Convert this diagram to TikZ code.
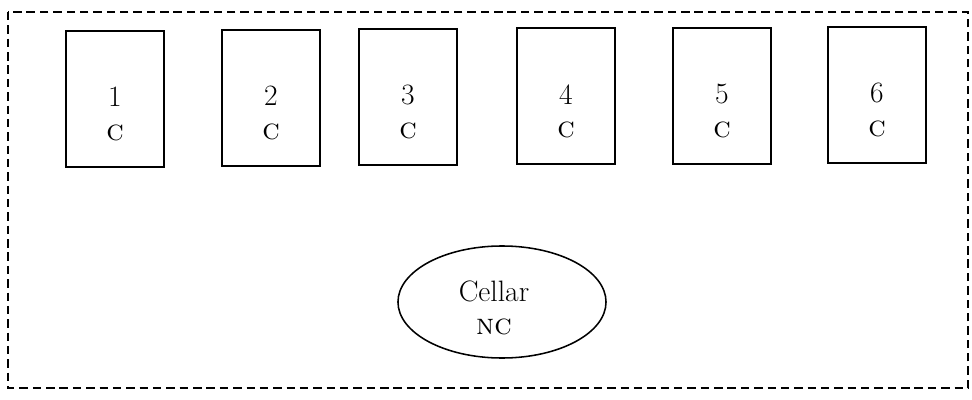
\documentclass[tikz,border=0pt]{standalone}
\usepackage{tikz}
\usetikzlibrary{shapes.geometric}

\begin{document}
\begin{tikzpicture}[x=0.025cm, y=-0.025cm,
                    room node/.style={rectangle,draw,line width=1.2pt,minimum width=2.45cm,minimum height=3.4cm},
                    room text/.style={align=center,font=\fontsize{21}{24}\selectfont},
                    cellar node/.style={ellipse,draw,line width=1.1pt,minimum width=5.2cm,minimum height=2.8cm,inner sep=0pt}]

  \useasboundingbox (0,0) rectangle (972,400);

  % outer dashed border
  \draw[line width=1.3pt,dash pattern=on 6pt off 3.5pt] (8,12) rectangle (968,388);

  \node[room node] (1) at (115,99) {};
  \node[room node] (2) at (271,98) {};
  \node[room node] (3) at (408,97) {};
  \node[room node] (4) at (566,96) {};
  \node[room node] (5) at (722,96) {};
  \node[room node] (6) at (877,95) {};

  \node[room text] (t1) at ([yshift=-0.38cm]1.center) {1\\\textsc{c}};
  \node[room text] (t2) at ([yshift=-0.38cm]2.center) {2\\\textsc{c}};
  \node[room text] (t3) at ([yshift=-0.38cm]3.center) {3\\\textsc{c}};
  \node[room text] (t4) at ([yshift=-0.38cm]4.center) {4\\\textsc{c}};
  \node[room text] (t5) at ([yshift=-0.38cm]5.center) {5\\\textsc{c}};
  \node[room text] (t6) at ([yshift=-0.38cm]6.center) {6\\\textsc{c}};

  \node[cellar node] (cellar) at (502,302) {};
  \node[room text] (tc) at ([xshift=-0.2cm,yshift=-0.15cm]cellar.center) {Cellar\\\textsc{nc}};

\end{tikzpicture}
\end{document}
